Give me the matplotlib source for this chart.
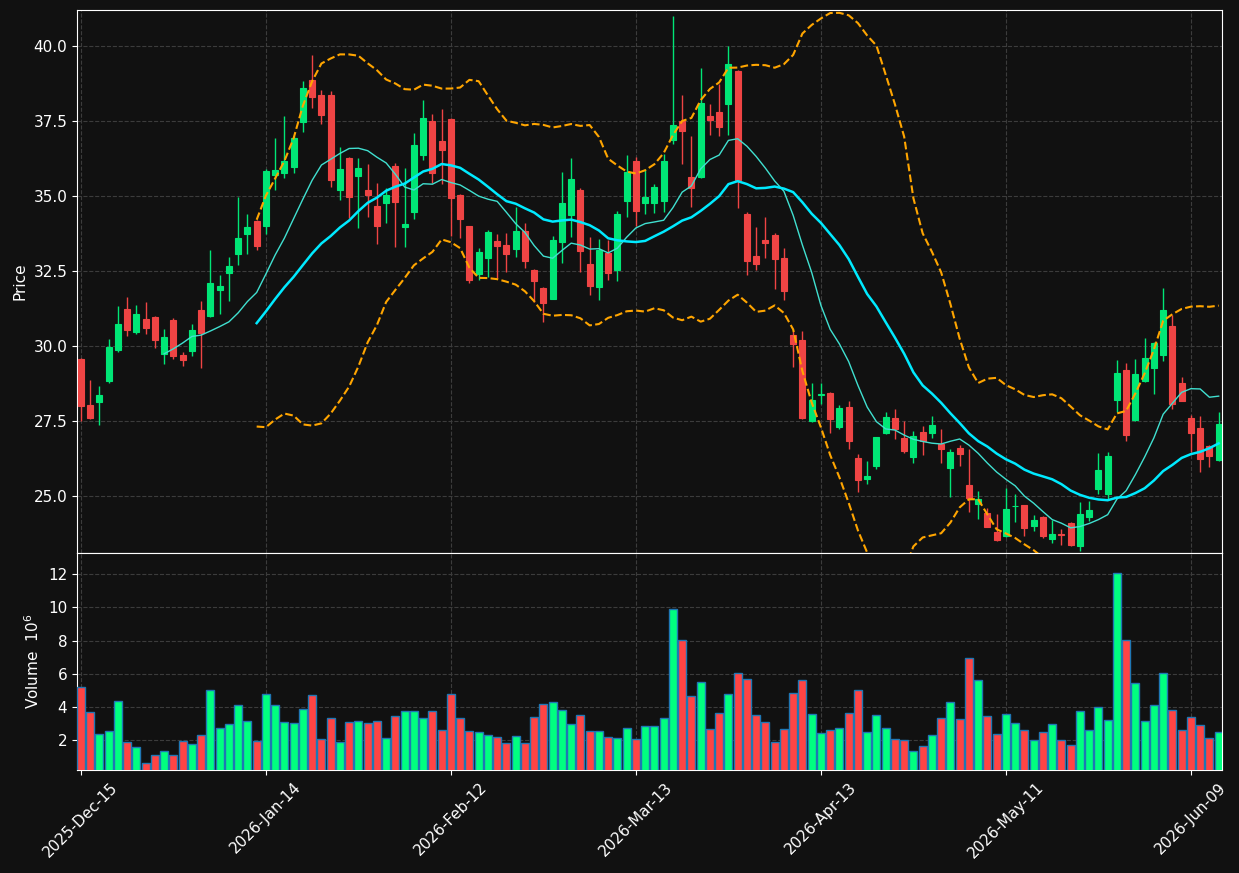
import numpy as np
import pandas as pd
import matplotlib
matplotlib.use("Agg")
import matplotlib.pyplot as plt

# daily OHLC + volume (millions), one entry per trading day
opens = [29.56, 28.02, 28.14, 28.83, 29.87, 31.24, 30.47, 30.90, 30.97, 29.73,
         30.87, 29.70, 29.83, 31.21, 31.00, 31.87, 32.44, 33.07, 33.74, 34.16,
         33.99, 35.70, 35.78, 35.95, 37.48, 38.88, 38.35, 38.38, 35.21, 36.27,
         35.68, 35.20, 34.67, 34.78, 36.00, 33.97, 34.48, 36.35, 37.51, 36.84,
         37.58, 35.03, 33.99, 32.39, 32.92, 33.49, 33.36, 33.23, 33.83, 32.52,
         31.92, 31.58, 33.46, 34.36, 35.20, 32.72, 31.95, 33.09, 32.52, 34.84,
         36.15, 34.78, 34.78, 34.84, 36.85, 37.50, 35.63, 35.63, 37.66, 37.79,
         38.07, 39.16, 34.41, 32.99, 33.53, 33.71, 32.92, 30.35, 30.20, 27.49,
         28.36, 28.44, 27.30, 27.97, 26.28, 25.57, 25.99, 27.11, 27.60, 26.93,
         26.31, 27.13, 27.11, 26.74, 25.94, 26.60, 25.35, 24.72, 24.42, 23.79,
         23.66, 24.65, 24.69, 24.00, 24.31, 23.58, 23.74, 24.11, 23.33, 24.31,
         25.22, 25.06, 28.20, 29.20, 27.53, 28.82, 29.27, 29.71, 30.67, 28.76,
         27.59, 27.25, 26.65, 26.19]
highs = [29.60, 28.85, 28.66, 30.22, 31.34, 31.64, 31.37, 31.47, 31.00, 30.56,
         30.94, 29.80, 30.74, 31.51, 33.20, 32.38, 32.98, 34.95, 34.41, 34.20,
         35.90, 36.93, 37.68, 37.00, 38.82, 39.70, 38.54, 38.49, 36.62, 36.30,
         36.28, 36.06, 35.42, 35.28, 36.09, 35.93, 37.10, 38.20, 37.73, 37.90,
         37.60, 35.05, 34.00, 33.26, 33.86, 33.72, 33.76, 34.62, 34.10, 32.55,
         31.98, 33.66, 35.80, 36.27, 35.26, 33.63, 33.56, 33.53, 34.50, 36.37,
         36.29, 35.89, 35.40, 36.41, 41.00, 38.38, 37.01, 39.25, 38.05, 38.73,
         39.99, 39.20, 34.45, 33.96, 34.30, 33.75, 33.26, 30.51, 30.50, 28.75,
         28.76, 28.46, 28.02, 28.16, 26.41, 26.15, 26.98, 27.80, 27.91, 27.51,
         27.15, 27.32, 27.66, 27.22, 26.57, 26.69, 26.57, 25.18, 24.59, 24.39,
         25.28, 25.06, 24.71, 24.36, 24.33, 24.20, 23.91, 24.13, 24.80, 24.83,
         26.42, 26.45, 29.52, 29.43, 29.55, 30.27, 30.12, 31.94, 31.03, 28.98,
         27.71, 27.68, 26.71, 27.81]
lows = [27.51, 27.58, 27.38, 28.75, 29.79, 30.34, 30.41, 30.41, 29.92, 29.41,
        29.58, 29.34, 29.68, 29.27, 30.95, 31.06, 31.50, 32.69, 33.05, 33.21,
        33.74, 35.19, 35.59, 35.78, 37.14, 37.92, 37.40, 35.31, 34.85, 34.27,
        33.92, 34.31, 33.40, 34.11, 33.29, 33.29, 34.22, 36.19, 35.42, 35.41,
        33.66, 33.60, 32.10, 32.21, 32.30, 32.27, 32.47, 32.97, 32.60, 31.48,
        30.81, 31.56, 32.77, 33.63, 32.47, 31.71, 31.53, 32.20, 32.15, 34.29,
        34.01, 34.40, 34.43, 34.48, 36.74, 36.07, 34.62, 35.60, 37.04, 37.00,
        37.04, 34.61, 32.38, 32.54, 32.94, 31.91, 31.54, 29.31, 27.58, 27.45,
        28.05, 27.11, 27.22, 26.57, 25.12, 25.40, 25.90, 27.05, 26.89, 26.44,
        26.10, 26.38, 26.94, 26.10, 24.98, 26.00, 24.48, 24.23, 23.95, 23.50,
        23.64, 24.13, 23.68, 23.83, 23.59, 23.42, 23.35, 23.33, 23.16, 24.16,
        25.06, 24.91, 27.79, 26.84, 27.50, 28.79, 28.40, 29.49, 27.90, 28.15,
        26.45, 25.80, 25.97, 26.17]
closes = [28.00, 27.60, 28.36, 29.97, 30.74, 30.54, 31.07, 30.60, 30.20, 30.30,
          29.68, 29.53, 30.54, 30.42, 32.11, 32.01, 32.65, 33.60, 33.96, 33.33,
          35.84, 35.87, 36.17, 36.94, 38.60, 38.29, 37.71, 35.52, 35.90, 34.98,
          35.94, 35.04, 34.00, 35.02, 34.81, 34.06, 36.71, 37.61, 35.75, 36.54,
          34.93, 34.23, 32.19, 33.12, 33.79, 33.33, 33.06, 33.83, 32.82, 32.15,
          31.42, 33.53, 34.77, 35.57, 33.16, 31.99, 33.19, 32.42, 34.40, 35.80,
          34.51, 34.98, 35.31, 36.15, 37.35, 37.17, 35.26, 38.09, 37.52, 37.29,
          39.40, 35.54, 32.82, 32.73, 33.44, 32.90, 31.83, 30.06, 27.61, 28.19,
          28.40, 27.57, 27.94, 26.84, 25.54, 25.66, 26.96, 27.63, 27.24, 26.51,
          27.00, 26.84, 27.37, 26.57, 26.46, 26.41, 24.92, 24.90, 23.97, 23.53,
          24.58, 24.68, 23.94, 24.19, 23.68, 23.74, 23.71, 23.35, 24.41, 24.54,
          25.88, 26.32, 29.10, 27.03, 29.06, 29.60, 30.10, 31.21, 28.07, 28.17,
          27.10, 26.23, 26.34, 27.39]
volumes = [5.19, 3.69, 2.36, 2.54, 4.35, 1.88, 1.58, 0.67, 1.10, 1.34,
           1.10, 1.94, 1.76, 2.30, 5.01, 2.72, 2.96, 4.11, 3.14, 1.94,
           4.77, 4.11, 3.08, 3.02, 3.87, 4.71, 2.06, 3.33, 1.88, 3.08,
           3.14, 3.02, 3.14, 2.12, 3.45, 3.75, 3.75, 3.33, 3.75, 2.60,
           4.77, 3.33, 2.54, 2.48, 2.30, 2.18, 1.82, 2.24, 1.82, 3.39,
           4.17, 4.29, 3.81, 2.96, 3.51, 2.54, 2.54, 2.18, 2.12, 2.72,
           2.06, 2.84, 2.84, 3.33, 9.89, 8.02, 4.65, 5.49, 2.66, 3.63,
           4.77, 6.04, 5.67, 3.51, 3.08, 1.88, 2.66, 4.83, 5.61, 3.57,
           2.42, 2.60, 2.72, 3.63, 5.01, 2.48, 3.51, 2.72, 2.06, 2.00,
           1.34, 1.64, 2.30, 3.33, 4.29, 3.27, 6.94, 5.61, 3.45, 2.36,
           3.57, 3.02, 2.60, 2.00, 2.48, 2.96, 2.00, 1.70, 3.75, 2.60,
           3.99, 3.20, 12.06, 8.02, 5.43, 3.14, 4.11, 6.04, 3.81, 2.60,
           3.39, 2.90, 2.12, 2.48]
date_ticks = [0, 20, 40, 60, 80, 100, 120]
date_labels = ['2025-Dec-15', '2026-Jan-14', '2026-Feb-12', '2026-Mar-13',
               '2026-Apr-13', '2026-May-11', '2026-Jun-09']

bg = '#111111'
up_c, dn_c = '#00e676', '#ef4444'
vup_c, vdn_c = '#00ff80', '#ff4444'

o = np.array(opens); h = np.array(highs); l = np.array(lows); c = np.array(closes)
x = np.arange(len(c))
up = c >= o

s = pd.Series(c)
sma10 = s.rolling(10).mean()
sma20 = s.rolling(20).mean()
sd20 = s.rolling(20).std(ddof=0)
bb_up = sma20 + 2 * sd20
bb_lo = sma20 - 2 * sd20

fig = plt.figure(figsize=(12.39, 8.73), dpi=100, facecolor=bg)
ax = fig.add_axes([0.0621, 0.3666, 0.9241, 0.622])
axv = fig.add_axes([0.0621, 0.118, 0.9241, 0.2486], sharex=ax)

for a in (ax, axv):
    a.set_facecolor(bg)
    for sp in a.spines.values():
        sp.set_color('white')
    a.tick_params(colors='white', labelsize=11)
    a.grid(True, color='#3c3c3c', linestyle='--', linewidth=0.8)
    a.set_axisbelow(True)

# candles
cols = np.where(up, up_c, dn_c)
ax.vlines(x, l, h, colors=cols, linewidth=1, zorder=2)
ax.bar(x, np.abs(c - o), bottom=np.minimum(o, c), width=0.65,
       color=cols, edgecolor=cols, linewidth=0.8, zorder=3)

ax.plot(x, sma10, color='#40e0d0', linewidth=1.0, zorder=4)
ax.plot(x, sma20, color='#00eaff', linewidth=1.8, zorder=4)
ax.plot(x, bb_up, color='orange', linestyle='--', linewidth=1.5, zorder=4)
ax.plot(x, bb_lo, color='orange', linestyle='--', linewidth=1.5, zorder=4)

ax.set_ylim(23.1, 41.2)
ax.set_xlim(-0.43, 123.35)
ax.set_yticks([25.0, 27.5, 30.0, 32.5, 35.0, 37.5, 40.0])
ax.yaxis.set_major_formatter(matplotlib.ticker.FormatStrFormatter('%.1f'))
ax.set_ylabel('Price', color='white', fontsize=11)
ax.tick_params(axis='x', labelbottom=False, length=0)

# volume
vcols = np.where(up, vup_c, vdn_c)
axv.bar(x, volumes, width=0.85, color=vcols, edgecolor='#1f77b4', linewidth=1, zorder=3)
axv.set_ylim(0.22, 13.27)
axv.set_yticks([2, 4, 6, 8, 10, 12])
axv.set_ylabel('Volume  $10^{6}$', color='white', fontsize=11)
axv.set_xticks(date_ticks)
axv.set_xticklabels(date_labels, rotation=45)

fig.savefig('out.png', dpi=100, facecolor=bg)
